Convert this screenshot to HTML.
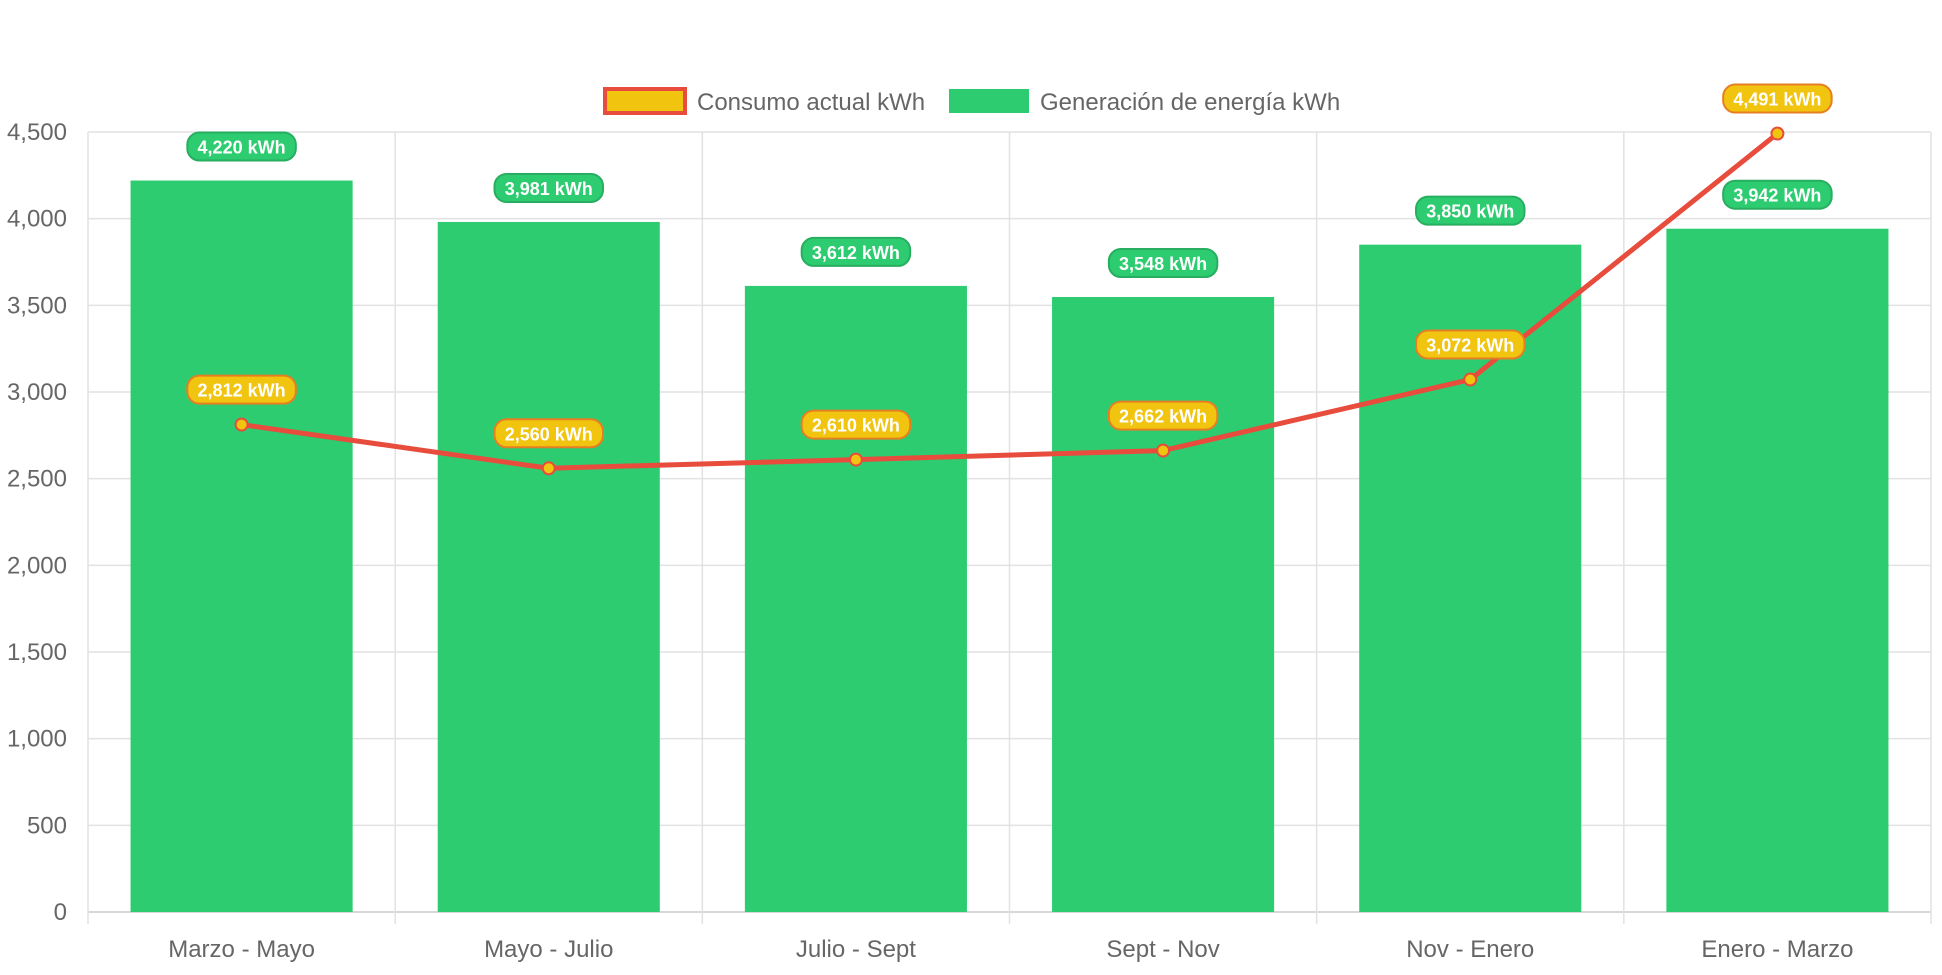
<!DOCTYPE html>
<html><head><meta charset="utf-8"><style>
body{margin:0;background:#fff;font-family:"Liberation Sans",sans-serif}
</style></head><body>
<svg id="c" width="1942" height="970" xmlns="http://www.w3.org/2000/svg" font-family="Liberation Sans, sans-serif"></svg>
<script>
const categories=["Marzo - Mayo","Mayo - Julio","Julio - Sept","Sept - Nov","Nov - Enero","Enero - Marzo"];
const generation=[4220,3981,3612,3548,3850,3942];
const consumption=[2812,2560,2610,2662,3072,4491];
const yTicks=[0,500,1000,1500,2000,2500,3000,3500,4000,4500];
const L=88,R=1931,T=132,B=912,yMax=4500;
const svg=document.getElementById('c');const NS='http://www.w3.org/2000/svg';
function y(v){return B-(v/yMax)*(B-T);}
const cw=(R-L)/categories.length;
function xc(i){return L+cw*(i+0.5);}
function mk(tag,attrs,parent){const e=document.createElementNS(NS,tag);for(const k in attrs)e.setAttribute(k,attrs[k]);(parent||svg).appendChild(e);return e;}
yTicks.forEach(t=>{const g=mk('line',{x1:L,x2:R,y1:y(t),y2:y(t),stroke:t===0?'#ccc':'#e2e2e2','stroke-width':1.5});


const tx=mk('text',{x:67,y:y(t)+8,'text-anchor':'end','font-size':24,fill:'#666'});tx.textContent=t.toLocaleString('en-US');

});
for(let i=0;i<=categories.length;i++){const x=L+cw*i;const g=mk('line',{x1:x,x2:x,y1:T,y2:B+12,stroke:'#e2e2e2','stroke-width':1.5});

}
function pill(cx,cy,txt,fill,stroke,name){const w=txt.length*10.5+14,h=28;
const g=mk('g',{});


mk('rect',{x:cx-w/2,y:cy-h/2,width:w,height:h,rx:12,fill:fill,stroke:stroke,'stroke-width':2},g);
const t=mk('text',{x:cx,y:cy+7,'text-anchor':'middle','font-size':18,'font-weight':'bold',fill:'#fff'},g);t.textContent=txt;}
categories.forEach((c,i)=>{const bw=cw*0.723;const r=mk('rect',{x:xc(i)-bw/2,y:y(generation[i]),width:bw,height:B-y(generation[i]),fill:'#2ecc71'});


const tx=mk('text',{x:xc(i),y:957,'text-anchor':'middle','font-size':24,fill:'#666'});tx.textContent=c;

});
const pl=mk('polyline',{points:consumption.map((v,i)=>xc(i)+','+y(v)).join(' '),fill:'none',stroke:'#e74c3c','stroke-width':5,'stroke-linejoin':'round'});


consumption.forEach((v,i)=>{const p=mk('circle',{cx:xc(i),cy:y(v),r:6,fill:'#f1c40f',stroke:'#e74c3c','stroke-width':2});

});
generation.forEach((v,i)=>pill(xc(i),y(v)-34,v.toLocaleString('en-US')+' kWh','#2ecc71','#27ae60','generation-label'));
consumption.forEach((v,i)=>pill(xc(i),y(v)-35,v.toLocaleString('en-US')+' kWh','#f1c40f','#e67e22','consumption-label'));
const lg=mk('g',{});


const b1=mk('rect',{x:605,y:89,width:80,height:24,fill:'#f1c40f',stroke:'#e74c3c','stroke-width':4},lg);


const t1=mk('text',{x:697,y:110,'font-size':24,fill:'#666'},lg);t1.textContent='Consumo actual kWh';


const b2=mk('rect',{x:949,y:89,width:80,height:24,fill:'#2ecc71'},lg);


const t2=mk('text',{x:1040,y:110,'font-size':24,fill:'#666'},lg);t2.textContent='Generación de energía kWh';


</script>
</body></html>
